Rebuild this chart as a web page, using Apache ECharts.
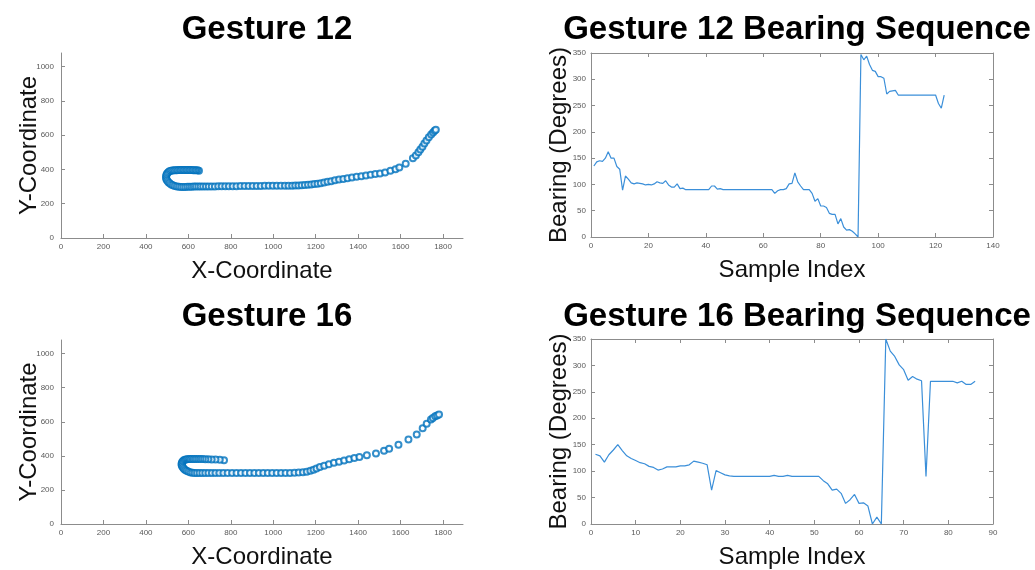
<!DOCTYPE html>
<html>
<head>
<meta charset="utf-8">
<script src="https://cdn.jsdelivr.net/npm/echarts@6/dist/echarts.min.js"></script>
<style>
  html, body { margin: 0; padding: 0; background: #fff; }
  #main { width: 1035px; height: 570px; }
</style>
</head>
<body>
<div id="main"></div>
<script>
// ---- data ----
var gesture12X = [650, 643, 636, 630, 623, 616, 609, 602, 595, 588, 581, 574, 567, 560, 553, 546, 539, 532, 525, 518,
  511, 505, 500, 497, 495, 495, 497, 501, 506, 512, 519, 527, 536, 546, 556, 566, 576,
  586, 596, 606, 616, 626, 636, 647, 658, 670, 683, 696, 710, 725, 741, 757, 774, 791, 809, 827, 846,
  865, 884, 903, 922, 941, 960, 979, 998, 1017, 1036, 1055, 1072, 1089, 1104, 1119, 1134, 1149, 1164, 1179, 1194,
  1209, 1224, 1240, 1256, 1273, 1291, 1310, 1330, 1350, 1371, 1393, 1415, 1437, 1459, 1481, 1503, 1527, 1552, 1576, 1594,
  1624, 1658, 1672, 1684, 1693, 1703, 1712, 1722, 1733, 1744, 1753, 1760, 1766];
var gesture12Y = [393, 395, 396, 396, 396, 397, 397, 397, 397, 397, 397, 397, 397, 397, 397, 396, 396, 395, 394, 392,
  389, 384, 377, 369, 360, 351, 342, 334, 326, 319, 313, 308, 304, 301, 299, 298, 298,
  298, 299, 299, 299, 300, 300, 300, 300, 300, 301, 301, 301, 301, 302, 302, 302, 302, 302, 302, 303,
  303, 303, 304, 304, 304, 305, 305, 305, 305, 305, 305, 305, 305, 306, 307, 308, 309, 311, 313, 315,
  317, 320, 324, 328, 332, 337, 341, 345, 349, 353, 357, 361, 365, 369, 373, 377, 383, 392, 402, 411,
  433, 466, 482, 500, 516, 533, 551, 569, 588, 604, 616, 626, 632];

var gesture16X = [768, 748, 728, 710, 694, 680, 668, 657, 647, 637, 628, 619, 610, 602, 594, 587,
  580, 575, 571, 569, 568, 569, 572, 576, 581, 587, 594, 602, 611, 620, 630,
  641, 653, 666, 680, 695, 711, 728, 746, 765, 785, 806, 827, 848, 869, 890, 911, 932, 953, 974, 995, 1016,
  1037, 1058, 1079, 1100, 1120, 1140, 1158, 1175, 1190, 1204, 1220, 1240, 1262, 1286, 1310, 1334, 1358, 1382, 1406,
  1441, 1484, 1522, 1546, 1590, 1637, 1676, 1704, 1723, 1743, 1752, 1763, 1772, 1781];
var gesture16Y = [374, 377, 378, 379, 380, 380, 381, 381, 382, 382, 382, 382, 382, 381, 380, 378,
  375, 370, 364, 357, 350, 343, 336, 329, 322, 316, 311, 306, 303, 301, 300,
  299, 299, 299, 299, 299, 299, 299, 299, 299, 299, 299, 299, 299, 299, 299, 299, 299, 299, 299, 299, 299,
  300, 300, 300, 301, 302, 304, 307, 312, 318, 326, 334, 342, 350, 359, 366, 373, 380, 387, 393,
  403, 414, 430, 442, 465, 496, 525, 562, 588, 613, 622, 632, 637, 642];

// bearing values, sample index starts at 1
var bearing12 = [135, 143, 145, 144, 150, 162, 150, 150, 134, 129, 89, 116, 110, 103, 101, 103, 102, 101, 99, 100,
  99, 101, 105, 103, 102, 107, 99, 95, 95, 101, 92, 93, 90, 90, 90, 90, 90, 90, 90, 90,
  90, 97, 97, 91, 92, 90, 90, 90, 90, 90, 90, 90, 90, 90, 90, 90, 90, 90, 90, 90,
  90, 90, 90, 83, 88, 90, 90, 92, 101, 102, 122, 105, 97, 90, 90, 90, 83, 68, 73, 59,
  59, 56, 45, 43, 43, 25, 35, 19, 13, 14, 11, 6, 0, 347, 337, 344, 328, 317, 315, 305,
  305, 302, 272, 277, 278, 279, 270, 270, 270, 270, 270, 270, 270, 270, 270, 270, 270, 270, 270, 270,
  254, 245, 270];
var bearing16 = [132, 129, 117, 131, 140, 150, 139, 129, 124, 120, 116, 114, 109, 107, 102, 104, 108, 108, 108, 110,
  110, 112, 119, 117, 115, 112, 64, 101, 97, 93, 91, 90, 90, 90, 90, 90, 90, 90, 90, 90,
  92, 90, 90, 92, 90, 90, 90, 90, 90, 90, 90, 82, 76, 64, 66, 58, 39, 46, 56, 39,
  40, 34, 0, 13, 0, 350, 327, 317, 301, 292, 272, 279, 274, 271, 90, 270, 270, 270, 270, 270,
  270, 267, 270, 264, 264, 270];

var titles = ['Gesture 12', 'Gesture 12 Bearing Sequence', 'Gesture 16', 'Gesture 16 Bearing Sequence'];

function pairs(xs, ys) {
  var out = [];
  for (var i = 0; i < xs.length; i++) out.push([xs[i], ys[i]]);
  return out;
}
function indexed(vals) {
  var out = [];
  for (var i = 0; i < vals.length; i++) out.push([i + 1, vals[i]]);
  return out;
}

var FONT = 'Liberation Sans, Arial, sans-serif';
var AXIS_COLOR = '#8c8c8c';
var LABEL_COLOR = '#5a5a5a';
var BLUE = '#0072BD';

function plain(v) { return String(v); }

function axis(gridIndex, min, max, interval, extra) {
  var a = {
    gridIndex: gridIndex,
    type: 'value',
    min: min,
    max: max,
    interval: interval,
    splitLine: { show: false },
    axisLine: { show: true, onZero: false, lineStyle: { color: AXIS_COLOR, width: 1 } },
    axisTick: { show: true, inside: true, length: 4, lineStyle: { color: AXIS_COLOR } },
    axisLabel: { show: true, color: LABEL_COLOR, fontSize: 8, fontFamily: FONT, margin: 5, formatter: plain },
    nameLocation: 'middle',
    nameTextStyle: { color: '#111', fontSize: 24, fontFamily: FONT }
  };
  for (var k in extra) a[k] = extra[k];
  return a;
}
function boxAxis(gridIndex, min, max, interval, position) {
  return axis(gridIndex, min, max, interval, {
    position: position,
    axisLabel: { show: false }
  });
}
function scatterLabel(margin) {
  return { color: LABEL_COLOR, fontSize: 8, fontFamily: FONT, margin: margin, showMaxLabel: false, formatter: plain };
}

var grids = [
  { left: 61, top: 53, width: 402, height: 185 },
  { left: 591, top: 53, width: 402, height: 184 },
  { left: 61, top: 340, width: 402, height: 184 },
  { left: 591, top: 339, width: 402, height: 185 }
];

var chart = echarts.init(document.getElementById('main'), null, { renderer: 'canvas' });

var option = {
  backgroundColor: '#fff',
  animation: false,
  title: [
    { text: titles[0], left: 262, top: 8, textAlign: 'center' },
    { text: titles[1], left: 792, top: 8, textAlign: 'center' },
    { text: titles[2], left: 262, top: 295, textAlign: 'center' },
    { text: titles[3], left: 792, top: 295, textAlign: 'center' }
  ].map(function (t) {
    t.textStyle = { color: '#000', fontSize: 33, fontWeight: 'bold', fontFamily: FONT };
    return t;
  }),
  grid: grids.map(function (g) { g.outerBoundsMode = 'none'; return g; }),
  xAxis: [
    axis(0, 0, 1894, 200, { name: 'X-Coordinate', nameGap: 21, axisLabel: scatterLabel(5) }),
    axis(1, 0, 140, 20, { name: 'Sample Index', nameGap: 21 }),
    axis(2, 0, 1894, 200, { name: 'X-Coordinate', nameGap: 21, axisLabel: scatterLabel(5) }),
    axis(3, 0, 90, 10, { name: 'Sample Index', nameGap: 21 }),
    boxAxis(1, 0, 140, 20, 'top'),
    boxAxis(3, 0, 90, 10, 'top')
  ],
  yAxis: [
    axis(0, 0, 1080, 200, { name: 'Y-Coordinate', nameGap: 20, nameMoveOverlap: false, axisLabel: scatterLabel(7) }),
    axis(1, 0, 350, 50, { name: 'Bearing (Degrees)', nameGap: 20, nameMoveOverlap: false }),
    axis(2, 0, 1080, 200, { name: 'Y-Coordinate', nameGap: 20, nameMoveOverlap: false, axisLabel: scatterLabel(7) }),
    axis(3, 0, 350, 50, { name: 'Bearing (Degrees)', nameGap: 20, nameMoveOverlap: false }),
    boxAxis(1, 0, 350, 50, 'right'),
    boxAxis(3, 0, 350, 50, 'right')
  ],
  series: [
    {
      type: 'scatter', xAxisIndex: 0, yAxisIndex: 0,
      data: pairs(gesture12X, gesture12Y),
      symbol: 'emptyCircle', symbolSize: 6,
      itemStyle: { color: BLUE, borderColor: BLUE, borderWidth: 1.5 }
    },
    {
      type: 'line', xAxisIndex: 1, yAxisIndex: 1,
      data: indexed(bearing12),
      showSymbol: false, symbol: 'none',
      lineStyle: { color: '#3b8fd9', width: 1.2 }
    },
    {
      type: 'scatter', xAxisIndex: 2, yAxisIndex: 2,
      data: pairs(gesture16X, gesture16Y),
      symbol: 'emptyCircle', symbolSize: 6,
      itemStyle: { color: BLUE, borderColor: BLUE, borderWidth: 1.5 }
    },
    {
      type: 'line', xAxisIndex: 3, yAxisIndex: 3,
      data: indexed(bearing16),
      showSymbol: false, symbol: 'none',
      lineStyle: { color: '#3b8fd9', width: 1.2 }
    }
  ]
};

chart.setOption(option);
</script>
</body>
</html>
